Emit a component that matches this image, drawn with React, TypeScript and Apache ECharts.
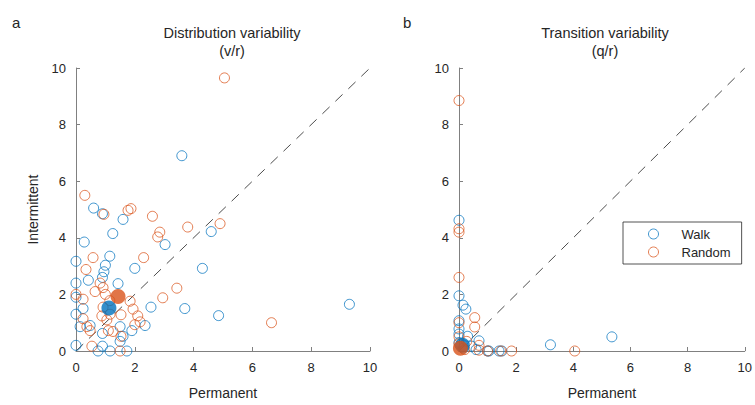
import React, { useEffect, useRef } from "react";
import * as echarts from "echarts";

// Axis ticks shared by both panels
const axisMin = 0;
const axisMax = 10;
const tickStep = 2;

const seriesNames = ["Walk", "Random"];

// Panel a: distribution variability (v/r), [permanent, intermittent]
const walkDistribution: number[][] = [
  [3.6, 6.9], [0.6, 5.05], [0.9, 4.85], [1.6, 4.65], [1.25, 4.15], [0.28, 3.85],
  [0, 3.17], [1.15, 3.35], [1.0, 3.03], [0.95, 2.8], [2.0, 2.92], [0.9, 2.6],
  [0, 2.4], [0.42, 2.5], [1.43, 2.38], [3.03, 3.76], [4.6, 4.22], [4.3, 2.92],
  [3.7, 1.5], [4.85, 1.25], [2.55, 1.55], [0, 1.3], [0.24, 1.5], [0, 1.9],
  [0, 0.2], [0.14, 0.86], [0.48, 0.9], [0.9, 0.62], [1.5, 0.86], [1.6, 0.52],
  [1.5, 0.34], [1.9, 0.72], [2.35, 0.9], [0.75, 0], [1.16, 0], [1.73, 0],
  [0.9, 0.17], [9.3, 1.65],
];
const randomDistribution: number[][] = [
  [5.05, 9.65], [0.3, 5.5], [0.95, 4.83], [1.77, 4.97], [1.87, 5.03], [2.6, 4.76],
  [2.85, 4.2], [2.78, 4.03], [3.8, 4.38], [4.9, 4.5], [0.58, 3.3], [2.3, 3.3],
  [0.34, 2.88], [0.82, 2.4], [0.92, 2.24], [0.65, 2.1], [0, 2.0], [0.24, 1.83],
  [3.43, 2.22], [2.95, 1.88], [1.0, 2.0], [1.15, 1.78], [1.84, 1.76], [1.94, 1.48],
  [2.1, 1.24], [0.92, 1.55], [0.88, 1.24], [1.05, 1.1], [1.16, 1.3], [1.53, 1.28],
  [2.18, 1.03], [2.0, 0.93], [0.24, 1.14], [0.48, 0.72], [0.37, 0.86], [1.1, 0.72],
  [1.26, 0.69], [1.53, 0.52], [0.54, 0.17], [1.5, 0], [6.65, 1.0],
];
const walkDistributionMean: number[][] = [[1.12, 1.52]];
const randomDistributionMean: number[][] = [[1.43, 1.93]];

// Panel b: transition variability (q/r), [permanent, intermittent]
const walkTransition: number[][] = [
  [0, 4.62], [0, 1.95], [0.14, 1.62], [0.24, 1.48], [0, 1.07], [0, 0.78],
  [0, 0.6], [0.3, 0.52], [0.7, 0.36], [0.44, 0.17], [1.0, 0], [1.05, 0],
  [1.4, 0], [1.5, 0], [3.2, 0.22], [5.35, 0.5], [0, 0.3], [0.15, 0.1], [0.6, 0.05],
];
const randomTransition: number[][] = [
  [0, 8.85], [0, 4.32], [0, 4.2], [0, 2.6], [0.55, 1.18], [0, 1.0],
  [0.55, 0.85], [0, 0.5], [0.27, 0.34], [0.7, 0.2], [0.7, 0.03], [1.0, 0],
  [1.46, 0], [1.84, 0], [4.05, 0], [0, 0.25], [0.2, 0.05],
];
const walkTransitionMean: number[][] = [[0.12, 0.2]];
const randomTransitionMean: number[][] = [[0.05, 0.1]];

// Identity reference line
const identityLine: number[][] = [[axisMin, axisMin], [axisMax, axisMax]];

const BLUE = "#0072BD";
const ORANGE = "#D95319";
const TEXT = "#262626";
const AXIS = "#808080";
const FONT = "'Liberation Sans', Arial, Helvetica, sans-serif";

function makeAxis(gridIndex: number, name: string, nameGap: number) {
  return {
    type: "value",
    gridIndex,
    min: axisMin,
    max: axisMax,
    interval: tickStep,
    name,
    nameLocation: "middle",
    nameGap,
    nameTextStyle: { fontFamily: FONT, fontSize: 14, color: TEXT },
    axisLine: { show: true, onZero: false, lineStyle: { color: AXIS, width: 1 } },
    axisTick: { show: true, inside: true, length: 4, lineStyle: { color: AXIS } },
    axisLabel: { fontFamily: FONT, fontSize: 13, color: TEXT, margin: 10 },
    splitLine: { show: false },
  };
}

function openScatter(name: string, color: string, data: number[][], idx: number) {
  return {
    type: "scatter",
    name,
    xAxisIndex: idx,
    yAxisIndex: idx,
    data,
    symbol: "circle",
    symbolSize: 10,
    itemStyle: { color: "rgba(255,255,255,0)", borderColor: color, borderWidth: 1, opacity: 0.75 },
    z: 3,
  };
}

function meanScatter(name: string, color: string, data: number[][], idx: number) {
  return {
    type: "scatter",
    name,
    xAxisIndex: idx,
    yAxisIndex: idx,
    data,
    symbol: "circle",
    symbolSize: 15,
    itemStyle: { color, borderWidth: 0 },
    z: 4,
  };
}

function diagonal(idx: number) {
  return {
    type: "line",
    xAxisIndex: idx,
    yAxisIndex: idx,
    data: identityLine,
    symbol: "none",
    silent: true,
    lineStyle: { color: "#4d4d4d", width: 1, type: [10, 8] },
    z: 2,
  };
}

const titleStyle = { fontFamily: FONT, fontSize: 14.5, fontWeight: "normal", color: TEXT, lineHeight: 18 };
const panelStyle = { fontFamily: FONT, fontSize: 15, fontWeight: "normal", color: TEXT };

export default function App() {
  const ref = useRef<HTMLDivElement>(null);

  useEffect(() => {
    document.body.style.margin = "0";
    if (!ref.current) return;
    const chart = echarts.init(ref.current, undefined, { renderer: "svg" });
    chart.setOption({
      animation: false,
      backgroundColor: "#ffffff",
      textStyle: { fontFamily: FONT },
      title: [
        { text: "Distribution variability\n(v/r)", left: 232, top: 24, padding: 0, textAlign: "center", textStyle: titleStyle },
        { text: "Transition variability\n(q/r)", left: 605, top: 24, padding: 0, textAlign: "center", textStyle: titleStyle },
        { text: "a", left: 12, top: 15, padding: 0, textStyle: panelStyle },
        { text: "b", left: 403, top: 15, padding: 0, textStyle: panelStyle },
      ],
      legend: {
        data: seriesNames,
        left: 623,
        top: 222,
        orient: "vertical",
        itemWidth: 10,
        itemHeight: 10,
        itemGap: 4,
        padding: [5, 11, 5, 25],
        borderColor: TEXT,
        borderWidth: 0.8,
        selectedMode: false,
        itemStyle: { borderWidth: 1 },
        textStyle: { fontFamily: FONT, fontSize: 13, color: TEXT, padding: [0, 0, 0, 18], lineHeight: 14 },
      },
      grid: [
        { left: 76, top: 68, width: 294, height: 290 },
        { left: 459, top: 68, width: 294, height: 290 },
      ],
      xAxis: [makeAxis(0, "Permanent", 35), makeAxis(1, "Permanent", 35)],
      yAxis: [makeAxis(0, "Intermittent", 36), makeAxis(1, "", 36)],
      series: [
        diagonal(0),
        diagonal(1),
        openScatter(seriesNames[0], BLUE, walkDistribution, 0),
        openScatter(seriesNames[1], ORANGE, randomDistribution, 0),
        openScatter(seriesNames[0], BLUE, walkTransition, 1),
        openScatter(seriesNames[1], ORANGE, randomTransition, 1),
        meanScatter("Walk mean", BLUE, walkDistributionMean, 0),
        meanScatter("Random mean", ORANGE, randomDistributionMean, 0),
        meanScatter("Walk mean", BLUE, walkTransitionMean, 1),
        meanScatter("Random mean", ORANGE, randomTransitionMean, 1),
      ],
    });
    return () => chart.dispose();
  }, []);

  return <div ref={ref} style={{ width: 755, height: 405 }} />;
}
